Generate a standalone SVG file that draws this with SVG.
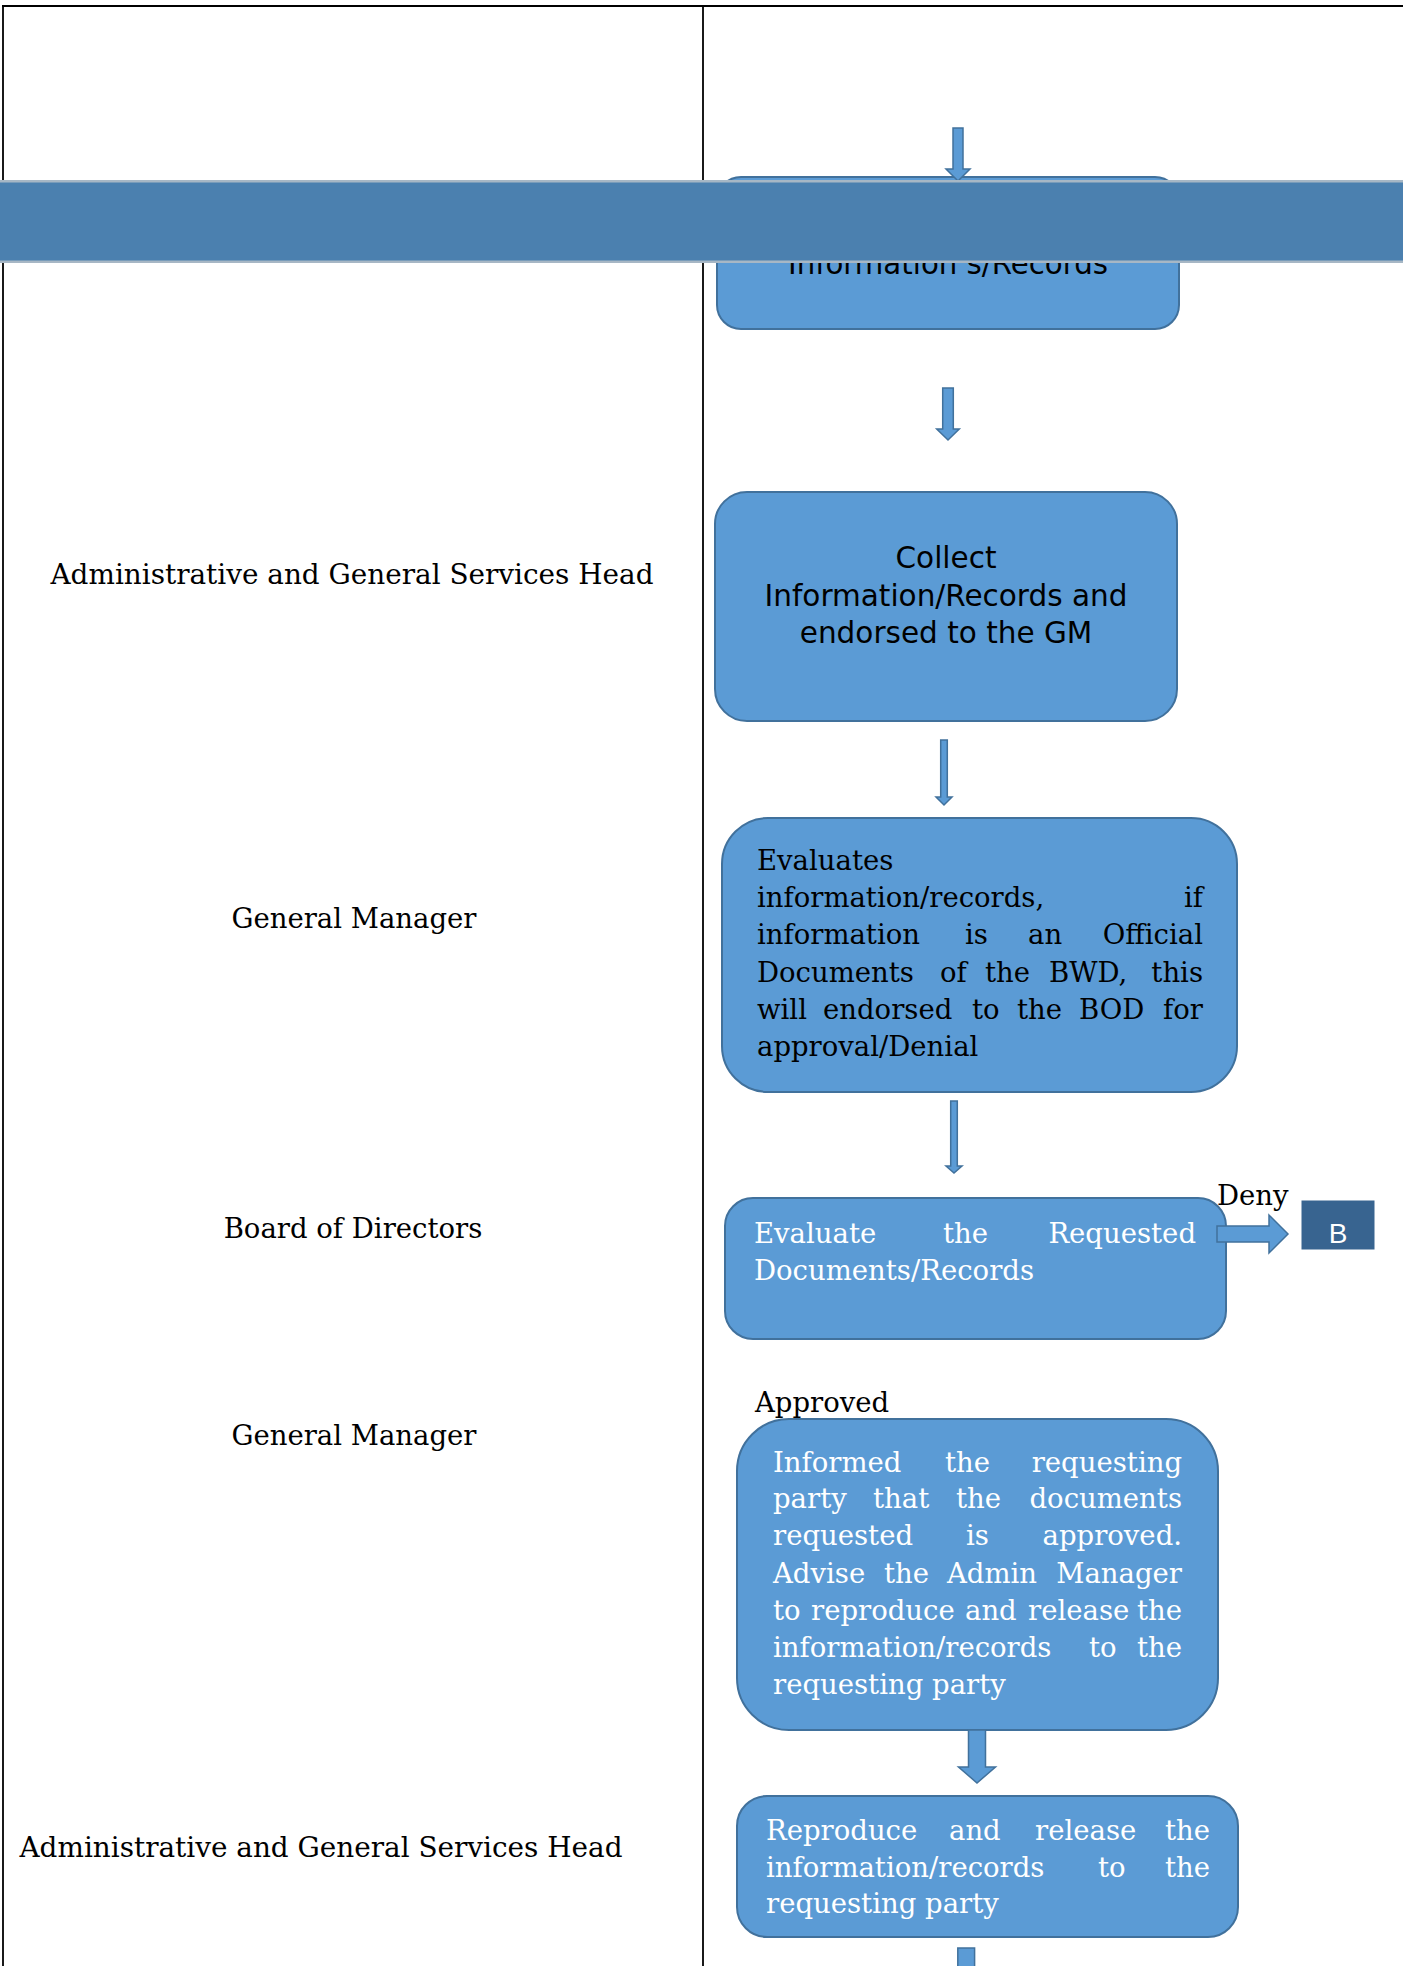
<svg xmlns="http://www.w3.org/2000/svg" width="1403" height="1966" viewBox="0 0 1403 1966">
<style>
.box{fill:#5b9bd5;stroke:#41719c;stroke-width:2}
.arr{fill:#5b9bd5;stroke:#41719c;stroke-width:1.5}
.ser{font-family:"DejaVu Serif","Liberation Serif",serif;font-size:27.5px;fill:#000}
.w{fill:#fff}
.san{font-family:"DejaVu Sans","Liberation Sans",sans-serif;font-size:29.5px;fill:#000}
.end{text-anchor:end}
.mid{text-anchor:middle}
.rule{stroke:#000;fill:none}
</style>
<rect width="1403" height="1966" fill="#fff"/>
<g id="table">
<line class="rule" x1="2" y1="6" x2="1403" y2="6" stroke-width="2.2"/>
<line class="rule" x1="3" y1="5" x2="3" y2="1966" stroke-width="1.8"/>
<line class="rule" x1="703" y1="5" x2="703" y2="1966" stroke-width="1.8"/>
</g>
<g id="lane-labels">
<text class="ser mid" x="352" y="584" textLength="603" lengthAdjust="spacingAndGlyphs">Administrative and General Services Head</text>
<text class="ser mid" x="354" y="928">General Manager</text>
<text class="ser mid" x="353" y="1238">Board of Directors</text>
<text class="ser mid" x="354" y="1445">General Manager</text>
<text class="ser mid" x="321" y="1857" textLength="603" lengthAdjust="spacingAndGlyphs">Administrative and General Services Head</text>
</g>
<g id="node-request">
<rect class="box" x="717" y="177" width="462" height="152" rx="24"/>
<text class="san mid" x="948" y="274" font-size="30" textLength="320" lengthAdjust="spacingAndGlyphs">Information s/Records</text>
</g>
<g id="node-collect">
<rect class="box" x="715" y="492" width="462" height="229" rx="32"/>
<text class="san mid" x="946" y="568">Collect</text>
<text class="san mid" x="946" y="606">Information/Records and</text>
<text class="san mid" x="946" y="643">endorsed to the GM</text>
</g>
<g id="node-gm-evaluate">
<rect class="box" x="722" y="818" width="515" height="274" rx="46"/>
<text class="ser" x="757" y="870">Evaluates</text>
<text class="ser" x="757" y="907">information/records,</text><text class="ser end" x="1203" y="907">if</text>
<text class="ser" y="944"><tspan x="757">information</tspan><tspan x="965">is</tspan><tspan x="1028">an</tspan></text><text class="ser end" x="1203" y="944">Official</text>
<text class="ser" y="982"><tspan x="757">Documents</tspan><tspan x="940">of</tspan><tspan x="985">the</tspan><tspan x="1049">BWD,</tspan></text><text class="ser end" x="1203" y="982">this</text>
<text class="ser" y="1019"><tspan x="757">will</tspan><tspan x="823">endorsed</tspan><tspan x="972">to</tspan><tspan x="1017">the</tspan><tspan x="1079">BOD</tspan></text><text class="ser end" x="1203" y="1019">for</text>
<text class="ser" x="757" y="1056">approval/Denial</text>
</g>
<g id="node-bod-evaluate">
<rect class="box" x="725" y="1198" width="501" height="141" rx="28"/>
<text class="ser w" y="1243"><tspan x="754">Evaluate</tspan><tspan x="943">the</tspan></text><text class="ser w end" x="1196" y="1243">Requested</text>
<text class="ser w" x="754" y="1280">Documents/Records</text>
</g>
<g id="node-b">
<rect x="1302" y="1201" width="72" height="48" fill="#386490" stroke="#386490" stroke-width="1"/>
<text x="1338" y="1243" font-family="Liberation Sans, Arial, sans-serif" font-size="28" fill="#fff" text-anchor="middle">B</text>
</g>
<g id="node-gm-inform">
<rect class="box" x="737" y="1419" width="481" height="311" rx="52"/>
<text class="ser w" y="1472"><tspan x="773">Informed</tspan><tspan x="945">the</tspan></text><text class="ser w end" x="1182" y="1472">requesting</text>
<text class="ser w" y="1508"><tspan x="773">party</tspan><tspan x="873">that</tspan><tspan x="956">the</tspan></text><text class="ser w end" x="1182" y="1508">documents</text>
<text class="ser w" y="1545"><tspan x="773">requested</tspan><tspan x="966">is</tspan></text><text class="ser w end" x="1182" y="1545">approved.</text>
<text class="ser w" y="1583"><tspan x="773">Advise</tspan><tspan x="884">the</tspan><tspan x="947">Admin</tspan></text><text class="ser w end" x="1182" y="1583">Manager</text>
<text class="ser w" y="1620"><tspan x="773">to</tspan><tspan x="811">reproduce</tspan><tspan x="965">and</tspan><tspan x="1028">release</tspan></text><text class="ser w end" x="1182" y="1620">the</text>
<text class="ser w" y="1657"><tspan x="773">information/records</tspan><tspan x="1089">to</tspan></text><text class="ser w end" x="1182" y="1657">the</text>
<text class="ser w" x="773" y="1694">requesting party</text>
</g>
<g id="node-release">
<rect class="box" x="737" y="1796" width="501" height="141" rx="30"/>
<text class="ser w" y="1840"><tspan x="766">Reproduce</tspan><tspan x="949">and</tspan><tspan x="1035">release</tspan></text><text class="ser w end" x="1210" y="1840">the</text>
<text class="ser w" y="1877"><tspan x="766">information/records</tspan><tspan x="1098">to</tspan></text><text class="ser w end" x="1210" y="1877">the</text>
<text class="ser w" x="766" y="1913">requesting party</text>
</g>
<g id="connectors">
<polygon class="arr" points="953,128 963,128 963,169 970,169 958,181 946,169 953,169"/>
<polygon class="arr" points="942.7,388 953.3,388 953.3,429 959.3,429 948,440 936.7,429 942.7,429"/>
<polygon class="arr" points="940.7,740 947.3,740 947.3,797 952,797 944,805 936,797 940.7,797"/>
<polygon class="arr" points="950.7,1101 957.3,1101 957.3,1166 962,1166 954,1173 946,1166 950.7,1166"/>
<polygon class="arr" points="968.5,1730 985.5,1730 985.5,1767 995.5,1767 977,1783 958.5,1767 968.5,1767"/>
<polygon class="arr" points="957.8,1948 974.6,1948 974.6,1970 957.8,1970"/>
<polygon class="arr" points="1217,1226 1269,1226 1269,1215 1288,1234 1269,1253 1269,1242 1217,1242"/>
<text class="ser" x="1217" y="1205">Deny</text>
<text class="ser" x="755" y="1412">Approved</text>
</g>
<g id="banner">
<rect x="0" y="180" width="1403" height="83" fill="#4b80af"/>
<rect x="0" y="180" width="1403" height="2.5" fill="#a7b7c5"/>
<rect x="0" y="260.5" width="1403" height="2.5" fill="#a7b7c5"/>
</g>
</svg>
